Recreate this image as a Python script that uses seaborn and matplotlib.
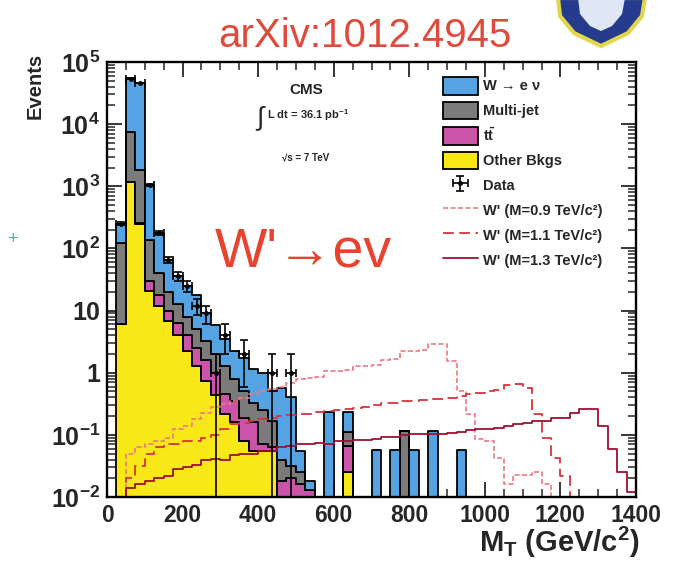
import numpy as np
import pandas as pd
import matplotlib
matplotlib.use("Agg")
import matplotlib.pyplot as plt
import seaborn as sns
from matplotlib import font_manager
from matplotlib.patches import Patch, Polygon
from matplotlib.lines import Line2D
from matplotlib.collections import PolyCollection
from matplotlib.ticker import MultipleLocator, LogLocator, NullFormatter

# ---------------- data ----------------
mt_edges = list(range(25, 1425, 25))        # 25 GeV bins, 25 .. 1400 GeV
n_bins = len(mt_edges) - 1

# stacked backgrounds (events per bin), bins 25-50 ... 950-975 GeV
w_enu = [130, 47400, 44200, 915, 140, 45, 23.4, 17, 13, 6.1, 3.8, 2.24, 1.4, 1.2,
         0.83, 0.75, 0.33, 0.53, 0.368, 0.03, 0.005, 0, 0.23, 0, 0.12, 0, 0, 0.058,
         0, 0.058, 0, 0.058, 0, 0.115, 0, 0, 0.058, 0]
multijet = [114, 6425, 1545, 105, 22, 10, 6.3, 4.0, 2.5, 1.6, 1.0, 0.8, 0.45, 0.31,
            0.16, 0.18, 0.107, 0.022, 0.012, 0.009, 0, 0, 0, 0, 0.045, 0, 0, 0,
            0, 0, 0.115, 0, 0, 0, 0, 0, 0, 0]
ttbar = [0.05, 5, 5, 9, 6, 3.1, 2.3, 1.8, 1.2, 0.86, 0.57, 0.24, 0.19, 0.11,
         0.105, 0.015, 0.008, 0.018, 0.02, 0.016, 0.013, 0, 0, 0, 0.04, 0, 0, 0,
         0, 0, 0, 0, 0, 0, 0, 0, 0, 0]
other_bkg = [6, 1170, 250, 21, 12, 6.9, 4.0, 2.2, 1.3, 0.74, 0.43, 0.22, 0.16, 0.08,
             0.055, 0.055, 0.055, 0, 0, 0, 0, 0, 0, 0, 0.025, 0, 0, 0,
             0, 0, 0, 0, 0, 0, 0, 0, 0, 0]

# observed data (events per bin), bins 25-50 ... 475-500 GeV
data_counts = [250, 54000, 46500, 1050, 175, 66, 36, 25, 12, 9, 1, 4, 0, 2, 0, 0, 1, 0, 1]

# W' signal expectations, bins 25-50 ... 1375-1400 GeV
wp_09 = [0, 0.050, 0.063, 0.071, 0.079, 0.089, 0.126, 0.141, 0.178, 0.224, 0.282,
         0.316, 0.355, 0.398, 0.447, 0.50, 0.54, 0.58, 0.68, 0.80, 0.83, 0.85, 1.05,
         1.07, 1.10, 1.28, 1.30, 1.32, 1.62, 1.66, 2.20, 2.26, 2.28, 2.90, 2.95, 1.55,
         0.51, 0.22, 0.087, 0.079, 0.043, 0.016, 0.023, 0.023, 0.025, 0.016,
         0, 0, 0, 0, 0, 0, 0, 0, 0]
wp_11 = [0, 0.020, 0.032, 0.050, 0.063, 0.071, 0.071, 0.079, 0.079, 0.089, 0.10,
         0.126, 0.148, 0.158, 0.166, 0.178, 0.19, 0.20, 0.21, 0.22, 0.22, 0.23, 0.24,
         0.25, 0.26, 0.275, 0.28, 0.30, 0.32, 0.33, 0.35, 0.355, 0.37, 0.38, 0.38,
         0.39, 0.42, 0.45, 0.48, 0.50, 0.52, 0.63, 0.66, 0.56, 0.22, 0.089, 0.043,
         0.022, 0, 0, 0, 0, 0, 0, 0]
wp_13 = [0, 0.014, 0.016, 0.018, 0.020, 0.022, 0.028, 0.030, 0.033, 0.040, 0.041,
         0.040, 0.047, 0.049, 0.049, 0.054, 0.055, 0.063, 0.066, 0.071, 0.071, 0.074,
         0.071, 0.079, 0.079, 0.083, 0.083, 0.087, 0.093, 0.093, 0.10, 0.102, 0.102,
         0.102, 0.105, 0.107, 0.112, 0.12, 0.126, 0.126, 0.129, 0.141, 0.151, 0.158,
         0.166, 0.17, 0.186, 0.19, 0.224, 0.263, 0.26, 0.14, 0.06, 0.025, 0.012]

bkg_names = ["W → e ν", "Multi-jet", "ttbar", "Other Bkgs"]
bkg_colors = ["#55a3e2", "#7b7b7b", "#c954a8", "#f8e817"]
sig_labels = ["W' (M=0.9 TeV/c²)", "W' (M=1.1 TeV/c²)", "W' (M=1.3 TeV/c²)"]
sig_colors = ["#ec7a82", "#d8343a", "#9e1030"]

x_ticks = [0, 200, 400, 600, 800, 1000, 1200, 1400]
y_ticks = [1e-2, 1e-1, 1, 10, 1e2, 1e3, 1e4, 1e5]
y_tick_labels = [r"$\mathbf{10^{-2}}$", r"$\mathbf{10^{-1}}$", "1", "10",
                 r"$\mathbf{10^{2}}$", r"$\mathbf{10^{3}}$", r"$\mathbf{10^{4}}$",
                 r"$\mathbf{10^{5}}$"]

# ---------------- style ----------------
sns.set_style("ticks")
plt.rcParams["font.family"] = ["Liberation Sans", "DejaVu Sans"]
plt.rcParams.update({
    "mathtext.fontset": "custom",
    "mathtext.rm": "Liberation Sans",
    "mathtext.bf": "Liberation Sans:bold",
    "mathtext.it": "Liberation Sans:italic",
    "mathtext.sf": "Liberation Sans",
    "axes.unicode_minus": True,
})

centers = [(a + b) / 2 for a, b in zip(mt_edges[:-1], mt_edges[1:])]


def pad(vals):
    return list(vals) + [0] * (n_bins - len(vals))


frames = []
for name, vals in zip(bkg_names, [w_enu, multijet, ttbar, other_bkg]):
    frames.append(pd.DataFrame({"mt": centers, "w": pad(vals), "proc": name}))
df_bkg = pd.concat(frames, ignore_index=True)

fig = plt.figure(figsize=(6.73, 5.63), dpi=100)
ax = fig.add_axes([107 / 673, 66 / 563, 529 / 673, 435 / 563])

sns.histplot(data=df_bkg, x="mt", weights="w", hue="proc", hue_order=bkg_names,
             multiple="stack", bins=mt_edges, element="step",
             palette=dict(zip(bkg_names, bkg_colors)), alpha=1,
             edgecolor="black", linewidth=1.3, legend=False, ax=ax)

styles = [(0, (3, 1.5)), (0, (6, 3)), "-"]
widths = [1.2, 1.3, 1.3]
for vals, col, ls, lw in zip([wp_09, wp_11, wp_13], sig_colors, styles, widths):
    df_sig = pd.DataFrame({"mt": centers, "w": vals})
    sns.histplot(data=df_sig, x="mt", weights="w", bins=mt_edges, element="step",
                 fill=False, color=col, linestyle=ls, linewidth=lw, ax=ax)

dc = np.array(pad(data_counts), dtype=float)
cx = np.array(centers)
mask = dc > 0
data_eb = ax.errorbar(cx[mask], dc[mask], xerr=12.5, yerr=np.sqrt(dc[mask]),
                      fmt="o", ms=2.5, color="black", ecolor="black", elinewidth=1.2,
                      capsize=3, capthick=1.2, zorder=10)

# empty bins sit at zero: lift them just below the visible log range so the
# filled areas and step lines reach the bottom of the frame cleanly
floor = 1e-4
for coll in ax.collections:
    if isinstance(coll, PolyCollection):
        verts = []
        for p in coll.get_paths():
            v = np.array(p.vertices, dtype=float)
            v[:, 1] = np.clip(v[:, 1], floor, None)
            verts.append(v)
        coll.set_verts(verts)
for ln in ax.lines:
    y = np.asarray(ln.get_ydata(), dtype=float)
    ln.set_ydata(np.clip(y, floor, None))

ax.set_yscale("log")
ax.set_xlim(0, 1400)
ax.set_ylim(1e-2, 1e5)
ax.set_xlabel("")
ax.set_ylabel("")

ax.set_xticks(x_ticks, labels=[str(v) for v in x_ticks])
ax.xaxis.set_minor_locator(MultipleLocator(50))
ax.set_yticks(y_ticks, labels=y_tick_labels)
ax.yaxis.set_minor_locator(LogLocator(base=10, subs=np.arange(2, 10), numticks=20))
ax.yaxis.set_minor_formatter(NullFormatter())
ax.tick_params(which="major", direction="in", length=11, width=1.3, top=True, right=True)
ax.tick_params(which="minor", direction="in", length=6, width=1.1, top=True, right=True)
ax.tick_params(axis="x", which="major", labelsize=16.5, pad=5)
ax.tick_params(axis="y", which="major", labelsize=18, pad=5)
for lab in ax.get_xticklabels() + ax.get_yticklabels():
    lab.set_fontweight("bold")
for sp in ax.spines.values():
    sp.set_linewidth(1.7)
    sp.set_color("black")

# legend
handles = [Patch(facecolor=c, edgecolor="black", linewidth=1.3) for c in bkg_colors]
handles.append(data_eb)
handles += [Line2D([], [], color=c, linestyle=ls, linewidth=lw)
            for c, ls, lw in zip(sig_colors, styles, widths)]
labels = ["W → e ν", "Multi-jet", r"t$\mathbf{\bar{t}}$", "Other Bkgs", "Data"] + sig_labels
ax.legend(handles, labels, loc="upper left", bbox_to_anchor=(0.635, 0.966),
          frameon=False, prop={"size": 10.5, "weight": "bold"}, handlelength=2.4,
          handleheight=1.5, labelspacing=0.48, handletextpad=0.35,
          borderaxespad=0, borderpad=0)

# CMS labels
ax.text(0.376, 0.936, "CMS", transform=ax.transAxes, ha="center", va="center",
        fontsize=11, fontweight="bold")
ax.text(0.289, 0.872, "∫", transform=ax.transAxes, ha="center", va="center",
        fontsize=19)
ax.text(0.302, 0.877, r"L dt = 36.1 pb$^{\mathbf{-1}}$", transform=ax.transAxes,
        ha="left", va="center", fontsize=8, fontweight="bold")
ax.text(0.376, 0.780, "√s = 7 TeV", transform=ax.transAxes, ha="center",
        va="center", fontsize=7, fontweight="bold")

# big red annotation
ax.text(0.204, 0.531, "W'→ev", transform=ax.transAxes, ha="left", va="baseline",
        fontsize=40, color="#e8432e")

# axis titles
fig.text(35 / 673, 1 - 53 / 563, "Events", rotation=90, ha="center", va="top",
         fontsize=14.5, fontweight="bold")
fig.text(640 / 673, 1 - 552 / 563, r"$\mathbf{M_{T}\ (GeV/c^{2})}$", ha="right",
         va="baseline", fontsize=21)

# header
avail = {f.name for f in font_manager.fontManager.ttflist}
if "Liberation Sans Narrow" in avail:
    hdr_font, hdr_size = ["Liberation Sans Narrow", "Liberation Sans"], 36
else:
    hdr_font, hdr_size = ["Liberation Sans", "DejaVu Sans"], 29
fig.text(365 / 673, 1 - 47 / 563, "arXiv:1012.4945", ha="center", va="baseline",
         fontsize=hdr_size, family=hdr_font, color="#e04a3a")


# shield logo (decoration)
def fp(pts):
    return [(x / 673, 1 - y / 563) for x, y in pts]


shield = Polygon(fp([(558, -2), (645, -2), (642, 16), (628, 33), (601, 46), (574, 33), (560, 16)]),
                 closed=True, facecolor="#253c8e", edgecolor="#e2d64a", linewidth=3,
                 transform=fig.transFigure, figure=fig)
inner = Polygon(fp([(578, -2), (625, -2), (622, 14), (612, 26), (601, 31), (590, 26), (580, 14)]),
                closed=True, facecolor="#dfe7f4", edgecolor="none",
                transform=fig.transFigure, figure=fig)
fig.patches.extend([shield, inner])

fig.text(12 / 673, 1 - 240 / 563, "+", ha="center", va="center", fontsize=13,
         color="#4fb39a")

fig.savefig("out.png", dpi=100)
